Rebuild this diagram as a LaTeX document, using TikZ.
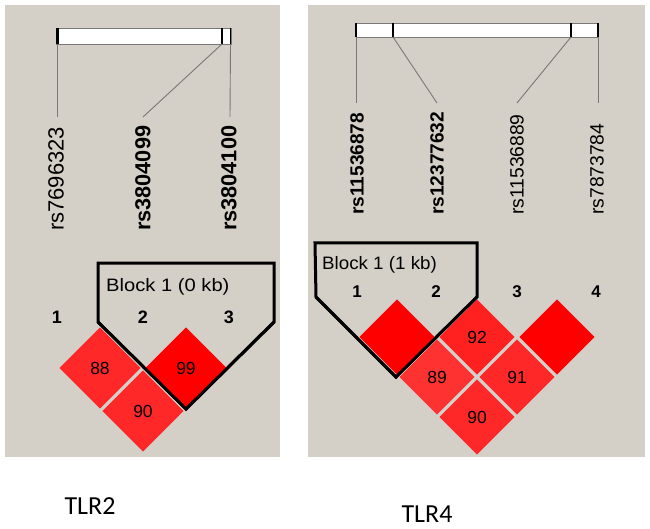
\documentclass[tikz,border=0pt]{standalone}
\usepackage{fontspec}
\setmainfont{Liberation Sans}
\newfontfamily\calib{Carlito}
\usetikzlibrary{shapes.geometric}
\definecolor{panelgray}{RGB}{212,208,200}
\definecolor{linkgray}{RGB}{120,120,120}
\definecolor{ldred}{RGB}{255,0,0}
\definecolor{ldredA}{RGB}{255,40,40}
\definecolor{ldredB}{RGB}{255,50,50}
\definecolor{ldredC}{RGB}{255,32,32}
\definecolor{edgecol}{RGB}{205,225,220}
\tikzset{
  panel/.style={fill=panelgray, draw=none},
  chrombar/.style={fill=white, draw=linkgray, line width=0.8pt},
  snptick/.style={draw=black, line width=2pt},
  link/.style={draw=linkgray, line width=0.9pt},
  snpL/.style={rotate=90, anchor=west, inner sep=0pt, font=\fontsize{22}{22}\selectfont},
  snpR/.style={rotate=90, anchor=west, inner sep=0pt, font=\fontsize{19.3}{19.3}\selectfont},
  idx/.style={inner sep=0pt, font=\fontsize{18}{18}\selectfont\bfseries},
  blocklbl/.style={anchor=west, inner sep=0pt, xscale=1.12, font=\fontsize{18}{18}\selectfont},
  ld/.style={diamond, aspect=1, inner sep=0pt, draw=edgecol, line width=0.6pt,
             font=\fontsize{17.5}{17.5}\selectfont},
  ldL/.style={ld, minimum width=83pt, minimum height=83pt},
  ldR/.style={ld, minimum width=77pt, minimum height=77pt},
  blockline/.style={draw=black, line width=3pt, line join=miter},
  gene/.style={inner sep=0pt, anchor=base, font=\calib\fontsize{26}{26}\selectfont}
}
\begin{document}
\begin{tikzpicture}[x=1pt,y=-1pt]
\useasboundingbox (0,0) rectangle (650,529);
\fill[white] (0,0) rectangle (650,529);
% panels
\path[panel] (5,5) rectangle (280,457);
\path[panel] (308,5) rectangle (645,457);

% ---------------- left panel (TLR2) ----------------
\path[chrombar] (56,28) rectangle (231,44);
\draw[snptick, line width=3pt] (57,28) -- (57,44);
\draw[snptick] (222,28) -- (222,44);
\draw[snptick, line width=1.5pt] (230.5,28) -- (230.5,44);
\coordinate (lt1) at (57,44);
\coordinate (lt2) at (222,44);
\coordinate (lt3) at (230.5,44);
\coordinate (le1) at (57,117);
\coordinate (le2) at (143,117);
\coordinate (le3) at (230,117);
\draw[link] (lt1) -- (le1);
\draw[link] (lt2) -- (le2);
\draw[link] (lt3) -- (le3);
\node[snpL] (ls1) at (56,231) {rs7696323};
\node[snpL, font=\fontsize{21.7}{21.7}\selectfont\bfseries] (ls2) at (143,231) {rs3804099};
\node[snpL, font=\fontsize{21.7}{21.7}\selectfont\bfseries] (ls3) at (229,231) {rs3804100};

\draw[blockline] (98,263) -- (274,263) -- (274,322) -- (186,409) -- (98,322) -- cycle;
\node[blocklbl] (lblk) at (106,287) {Block 1 (0 kb)};
\node[idx] (li1) at (57,317) {1};
\node[idx] (li2) at (143,317) {2};
\node[idx] (li3) at (229,317) {3};

\node[ldL, fill=ldredA] (l12) at (100,368) {88};
\node[ldL, fill=ldred] (l23) at (186,368) {99};
\node[ldL, fill=ldredA] (l13) at (143,411) {90};
\draw[blockline] (98,322) -- (186,409) -- (274,322);

\node[gene] (g2) at (90,514) {TLR2};

% ---------------- right panel (TLR4) ----------------
\path[chrombar] (356,23) rectangle (598,37);
\draw[snptick] (356,23) -- (356,37);
\draw[snptick] (393,23) -- (393,37);
\draw[snptick] (571,23) -- (571,37);
\draw[snptick] (598,23) -- (598,37);
\coordinate (rt1) at (356,37);
\coordinate (rt2) at (393,37);
\coordinate (rt3) at (571,37);
\coordinate (rt4) at (598,37);
\coordinate (re1) at (356,103);
\coordinate (re2) at (437,103);
\coordinate (re3) at (517,103);
\coordinate (re4) at (598,103);
\draw[link] (rt1) -- (re1);
\draw[link] (rt2) -- (re2);
\draw[link] (rt3) -- (re3);
\draw[link] (rt4) -- (re4);
\node[snpR, font=\fontsize{19.1}{19.1}\selectfont\bfseries] (rs1) at (357,215) {rs11536878};
\node[snpR, font=\fontsize{19.1}{19.1}\selectfont\bfseries] (rs2) at (437,215) {rs12377632};
\node[snpR] (rs3) at (517,215) {rs11536889};
\node[snpR] (rs4) at (597,215) {rs7873784};

\draw[blockline] (315,243) -- (477,243) -- (477,297) -- (396,377) -- (316,297) -- cycle;
\node[blocklbl, xscale=0.93] (rblk) at (322,265) {Block 1 (1 kb)};
\node[idx, font=\fontsize{17}{17}\selectfont\bfseries] (ri1) at (357,292) {1};
\node[idx, font=\fontsize{17}{17}\selectfont\bfseries] (ri2) at (436,292) {2};
\node[idx, font=\fontsize{17}{17}\selectfont\bfseries] (ri3) at (517,292) {3};
\node[idx, font=\fontsize{17}{17}\selectfont\bfseries] (ri4) at (596,292) {4};

\node[ldR, fill=ldred] (r12) at (397,337) {};
\node[ldR, fill=ldredC] (r23) at (477,337) {92};
\node[ldR, fill=ldred] (r34) at (557,337) {};
\node[ldR, fill=ldredB] (r13) at (437,377) {89};
\node[ldR, fill=ldredA] (r24) at (517,377) {91};
\node[ldR, fill=ldredA] (r14) at (477,417) {90};
\draw[blockline] (316,297) -- (396,377) -- (477,297);

\node[gene] (g4) at (427,522) {TLR4};
\end{tikzpicture}
\end{document}
